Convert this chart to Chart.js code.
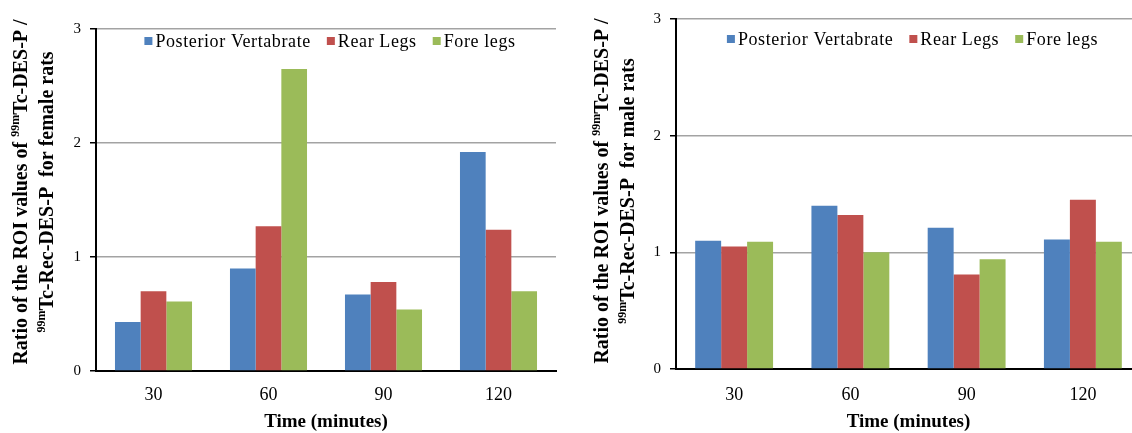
<!DOCTYPE html>
<html>
<head>
<meta charset="utf-8">
<title>ROI ratio of 99mTc-DES-P / 99mTc-Rec-DES-P</title>
<script src="https://cdn.jsdelivr.net/npm/chart.js@4/dist/chart.umd.min.js"></script>
<style>
    html, body { margin: 0; padding: 0; background: #fff; width: 1132px; height: 433px; overflow: hidden; }
    #femaleBox { position: absolute; left: 0; top: 0; }
    #maleBox { position: absolute; left: 566px; top: 0; }
</style>
</head>
<body>
<div id="femaleBox"><canvas id="femaleChart" width="566" height="433"></canvas></div>
<div id="maleBox"><canvas id="maleChart" width="580" height="433"></canvas></div>
<script>
//
// Variables
//

var times = ['30', '60', '90', '120'];
var seriesNames = ['Posterior Vertabrate', 'Rear Legs', 'Fore legs'];
var seriesColors = ['#4f81bd', '#c0504d', '#9bbb59'];

// Female rats (left panel)
var femalePosterior = [0.43, 0.90, 0.67, 1.92];
var femaleRear = [0.70, 1.27, 0.78, 1.24];
var femaleFore = [0.61, 2.65, 0.54, 0.70];

// Male rats (right panel)
var malePosterior = [1.10, 1.40, 1.21, 1.11];
var maleRear = [1.05, 1.32, 0.81, 1.45];
var maleFore = [1.09, 1.00, 0.94, 1.09];

var yMin = 0;
var yMax = 3;
var yStep = 1;

var xTitle = 'Time (minutes)';

// y titles, {sup: ..} parts are drawn as superscript
var femaleTitle = [
    ['Ratio of the ROI values of ', {sup: '99m'}, 'Tc-DES-P /'],
    [{sup: '99m'}, 'Tc-Rec-DES-P  for female rats']
];
var maleTitle = [
    ['Ratio of the ROI values of ', {sup: '99m'}, 'Tc-DES-P /'],
    [{sup: '99m'}, 'Tc-Rec-DES-P  for male rats']
];

var serif = '"Liberation Serif", "Times New Roman", serif';


//
// Plugins
//

/**
 * Is this title part a superscript? (plain strings have a .sup method, so check the type)
 */
function isSup(part) {
    return typeof part === 'object';
};

/**
 * Draw the rotated two line y title with superscripts
 */
var yTitlePlugin = {
    id: 'yTitle',
    afterDraw: function (chart, args, opts) {
        var ctx = chart.ctx;
        var mainFont = 'bold 20px ' + serif;
        var supFont = 'bold 12px ' + serif;

        ctx.save();
        ctx.fillStyle = '#000';
        ctx.textBaseline = 'middle';
        ctx.textAlign = 'left';

        opts.lines.forEach(function (line, i) {
            // measure the whole line first so it can be centred
            var width = 0;
            line.forEach(function (part) {
                ctx.font = isSup(part) ? supFont : mainFont;
                width += ctx.measureText(isSup(part) ? part.sup : part).width;
            });

            ctx.save();
            ctx.translate(opts.x[i], opts.y);
            ctx.rotate(-Math.PI / 2);
            var pos = -width / 2;
            line.forEach(function (part) {
                if (isSup(part)) {
                    ctx.font = supFont;
                    ctx.fillText(part.sup, pos, -6);
                    pos += ctx.measureText(part.sup).width;
                } else {
                    ctx.font = mainFont;
                    ctx.fillText(part, pos, 0);
                    pos += ctx.measureText(part).width;
                }
            });
            ctx.restore();
        });

        ctx.restore();
    }
};

/**
 * Legend drawn inside the plot area, like the Excel original
 */
var floatLegendPlugin = {
    id: 'floatLegend',
    afterDraw: function (chart, args, opts) {
        var ctx = chart.ctx;
        var area = chart.chartArea;
        var box = 8;
        var boxGap = 3;
        var itemGap = 16;
        var datasets = chart.data.datasets;

        ctx.save();
        ctx.font = '18px ' + serif;
        ctx.letterSpacing = '0.6px';
        ctx.textBaseline = 'middle';
        ctx.textAlign = 'left';

        var total = 0;
        datasets.forEach(function (ds, i) {
            total += box + boxGap + ctx.measureText(ds.label).width;
            if (i < datasets.length - 1) total += itemGap;
        });

        var x = (area.left + area.right) / 2 + opts.shift - total / 2;
        datasets.forEach(function (ds) {
            ctx.fillStyle = ds.backgroundColor;
            ctx.fillRect(x, opts.y - box / 2, box, box);
            x += box + boxGap;
            ctx.fillStyle = '#000';
            ctx.fillText(ds.label, x, opts.y + 1);
            x += ctx.measureText(ds.label).width + itemGap;
        });

        ctx.restore();
    }
};


//
// Methods
//

/**
 * Build one of the two bar panels
 */
function makeChart(canvasId, values, settings) {
    var datasets = values.map(function (series, i) {
        return {
            label: seriesNames[i],
            data: series,
            backgroundColor: seriesColors[i],
            borderWidth: 0,
            categoryPercentage: 0.67,
            barPercentage: 1.0
        };
    });

    var ctx = document.querySelector(canvasId).getContext('2d');
    return new Chart(ctx, {
        type: 'bar',
        data: {
            labels: times,
            datasets: datasets
        },
        options: {
            responsive: false,
            animation: false,
            layout: {
                padding: { top: settings.top, right: settings.right, left: 0, bottom: 0 }
            },
            plugins: {
                legend: { display: false },
                tooltip: { enabled: false },
                yTitle: { lines: settings.title, x: settings.titleX, y: settings.titleY },
                floatLegend: { y: settings.legendY, shift: 4 }
            },
            scales: {
                x: {
                    grid: { display: false },
                    border: { display: true, color: '#000', width: 2 },
                    ticks: {
                        color: '#000',
                        padding: settings.xPad,
                        font: { family: serif, size: 18 }
                    },
                    title: {
                        display: true,
                        text: xTitle,
                        color: '#000',
                        padding: { top: 0, bottom: 0 },
                        font: { family: serif, size: 19, weight: 'bold' }
                    },
                    afterFit: function (scale) {
                        scale.height = settings.xHeight;
                    }
                },
                y: {
                    min: yMin,
                    max: yMax,
                    grid: {
                        color: '#a3a3a3',
                        lineWidth: 1.5,
                        tickLength: 6,
                        tickColor: '#000',
                        tickWidth: 1.5
                    },
                    border: { display: true, color: '#000', width: 2 },
                    ticks: {
                        stepSize: yStep,
                        color: '#000',
                        padding: 9,
                        font: { family: serif, size: 15 }
                    },
                    afterFit: function (scale) {
                        scale.width = settings.yWidth;
                    }
                }
            }
        },
        plugins: [yTitlePlugin, floatLegendPlugin]
    });
};


//
// Render
//

makeChart('#femaleChart', [femalePosterior, femaleRear, femaleFore], {
    top: 29,
    right: 10,
    yWidth: 96,
    xHeight: 62,
    xPad: 5,
    legendY: 41,
    title: femaleTitle,
    titleX: [22, 48],
    titleY: 192
});

makeChart('#maleChart', [malePosterior, maleRear, maleFore], {
    top: 19,
    right: 5,
    yWidth: 110,
    xHeight: 64,
    xPad: 7,
    legendY: 39,
    title: maleTitle,
    titleX: [37, 63],
    titleY: 191
});
</script>
</body>
</html>
